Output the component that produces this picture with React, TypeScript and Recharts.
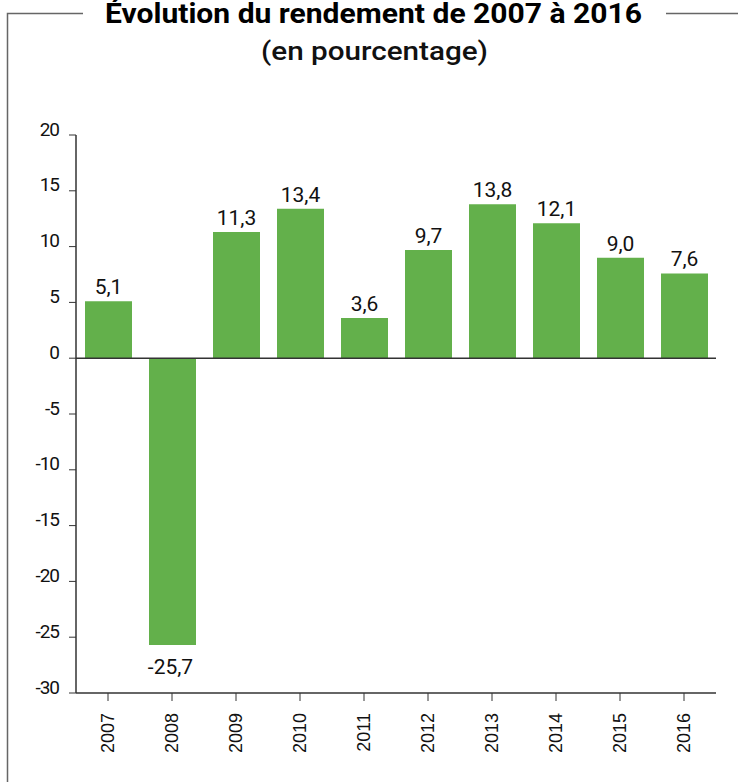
import React from 'react';
import { BarChart, Bar, XAxis, YAxis, ReferenceLine, LabelList } from 'recharts';

// données : rendement annuel en %
const years = ['2007', '2008', '2009', '2010', '2011', '2012', '2013', '2014', '2015', '2016'];
const rendement = [5.1, -25.7, 11.3, 13.4, 3.6, 9.7, 13.8, 12.1, 9.0, 7.6];
const yTicks = [-30, -25, -20, -15, -10, -5, 0, 5, 10, 15, 20];

const title = 'Évolution du rendement de 2007 à 2016';
const subtitle = '(en pourcentage)';

const data = years.map((year, i) => ({ year, value: rendement[i] }));

const fmt = (v: number) => v.toFixed(1).replace('.', ',');

const YTick = (props: any) => {
  const { x, y, payload } = props;
  return (
    <text x={x} y={y - 6} dy="0.35em" textAnchor="end" fontFamily="Roboto" fontSize={19} letterSpacing={-1} fill="#111">
      {payload.value}
    </text>
  );
};

const XTick = (props: any) => {
  const { x, y, payload } = props;
  return (
    <text
      x={x}
      y={y}
      dy="0.35em"
      textAnchor="end"
      transform={`rotate(-90 ${x} ${y})`}
      fontFamily="'Liberation Sans', Arial, sans-serif"
      fontSize={18}
      fill="#111"
    >
      {payload.value}
    </text>
  );
};

const ValueLabel = (props: any) => {
  const { x, y, width, height, value } = props;
  const top = Math.min(y, y + height);
  const bottom = Math.max(y, y + height);
  const cx = x + width / 2;
  const ty = value >= 0 ? top - 7 : bottom + 29;
  return (
    <text x={cx - (value < 0 ? 2 : 0)} y={ty} textAnchor="middle" fontFamily="Roboto" fontSize={21} fill="#111">
      {fmt(value)}
    </text>
  );
};

export default function App() {
  return (
    <div style={{ position: 'relative', width: 738, height: 782, background: '#fff' }}>
      <style>{'body{margin:0}'}</style>
      <BarChart width={738} height={782} data={data} margin={{ top: 135, right: 22, bottom: 0, left: 0 }}>
        <XAxis
          dataKey="year"
          height={89}
          axisLine={{ stroke: '#333', strokeWidth: 1.5 }}
          tickLine={{ stroke: '#333' }}
          tickSize={8}
          tickMargin={12}
          tick={<XTick />}
          interval={0}
        />
        <YAxis
          width={76}
          domain={[-30, 20]}
          ticks={yTicks}
          interval={0}
          axisLine={{ stroke: '#333', strokeWidth: 1.5 }}
          tickLine={{ stroke: '#333' }}
          tickSize={7}
          tickMargin={10}
          tick={<YTick />}
        />
        <Bar dataKey="value" fill="#63b04b" barSize={47} isAnimationActive={false}>
          <LabelList dataKey="value" content={<ValueLabel />} />
        </Bar>
        <ReferenceLine y={0} stroke="#333" strokeWidth={1.5} />
      </BarChart>
      <svg width={738} height={782} style={{ position: 'absolute', left: 0, top: 0, pointerEvents: 'none' }}>
        <polyline points="83,13.5 7.5,13.5 7.5,782" fill="none" stroke="#666" strokeWidth={1.5} />
        <line x1={666} y1={13.5} x2={738} y2={13.5} stroke="#666" strokeWidth={1.5} />
        <text
          x={373.5}
          y={23}
          textAnchor="middle"
          fontFamily="Roboto"
          fontWeight={700}
          fontSize={27}
          textLength={537}
          lengthAdjust="spacingAndGlyphs"
          fill="#000"
        >
          {title}
        </text>
        <text
          x={374.5}
          y={60}
          textAnchor="middle"
          fontFamily="Roboto"
          fontWeight={500}
          fontSize={26}
          textLength={227}
          lengthAdjust="spacingAndGlyphs"
          fill="#111"
        >
          {subtitle}
        </text>
      </svg>
    </div>
  );
}
